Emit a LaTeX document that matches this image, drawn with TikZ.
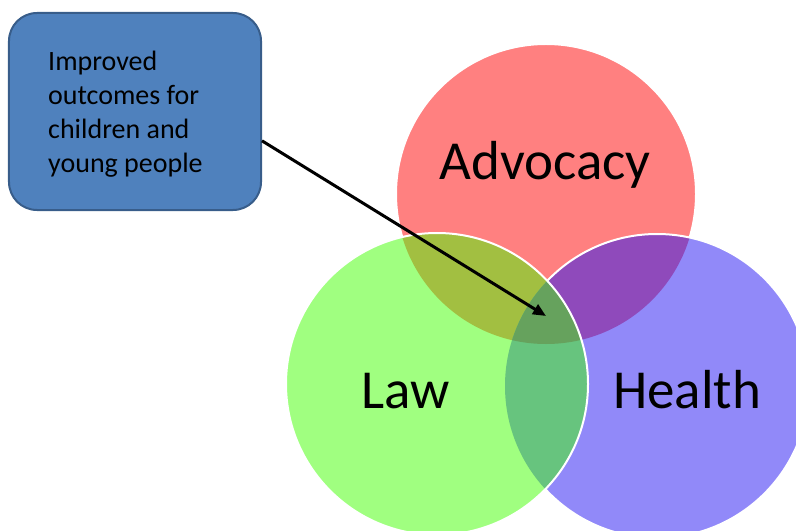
\documentclass[tikz,border=0pt]{standalone}
\usepackage{fontspec}
\setmainfont{Carlito}
\usetikzlibrary{arrows.meta}
\definecolor{advred}{HTML}{FF8080}
\definecolor{healthblue}{HTML}{9189F9}
\definecolor{lawgreen}{HTML}{A0FF80}
\definecolor{ahpurple}{HTML}{8F4ABB}
\definecolor{alolive}{HTML}{A2BF41}
\definecolor{lhgreen}{HTML}{67C47E}
\definecolor{alhgreen}{HTML}{66A25D}
\definecolor{boxfill}{HTML}{4F81BD}
\definecolor{boxedge}{HTML}{385D8A}
\tikzset{
  rim/.style={draw=white, line width=2bp},
  lbl/.style={anchor=base, inner sep=0pt, font=\fontsize{55bp}{66bp}\selectfont},
  notebox/.style={draw=boxedge, fill=boxfill, line width=2bp, rounded corners=28bp,
    minimum width=252bp, minimum height=197bp, inner sep=0pt},
  pointer/.style={line width=3bp, -{Triangle[length=13bp,width=11bp]}}
}
\begin{document}
\begin{tikzpicture}[x=1bp,y=-1bp]
\useasboundingbox (0,0) rectangle (796,531);
\clip (0,0) rectangle (796,531);
\coordinate (cA) at (546,194);
\coordinate (cH) at (657,386);
\coordinate (cL) at (437,384);
% Advocacy
\fill[advred] (cA) circle[radius=150bp];
\draw[rim] (cA) circle[radius=150bp];
% Health
\fill[healthblue] (cH) circle[radius=152bp];
\begin{scope}
  \clip (cA) circle[radius=150bp];
  \fill[ahpurple] (cH) circle[radius=152bp];
\end{scope}
\draw[rim] (cH) circle[radius=152bp];
% Law
\fill[lawgreen] (cL) circle[radius=151bp];
\begin{scope}
  \clip (cL) circle[radius=151bp];
  \fill[alolive] (cA) circle[radius=150bp];
  \fill[lhgreen] (cH) circle[radius=152bp];
  \clip (cA) circle[radius=150bp];
  \fill[alhgreen] (cH) circle[radius=152bp];
\end{scope}
\draw[rim] (cL) circle[radius=151bp];
% labels
\node[lbl] (adv) at (545,180) {Advocacy};
\node[lbl] (law) at (405.5,408) {Law};
\node[lbl] (hea) at (687,408) {Health};
% note box
\node[notebox] (box) at (135,111.5) {};
\node[anchor=base west, inner sep=0pt] (txt) at (48,71)
  {\parbox[t]{200bp}{\raggedright\fontsize{28bp}{34bp}\selectfont Improved\\outcomes for\\children and\\young people}};
\coordinate (tip) at (546,316);
\draw[pointer] (box.-13) -- (tip);
\end{tikzpicture}
\end{document}
